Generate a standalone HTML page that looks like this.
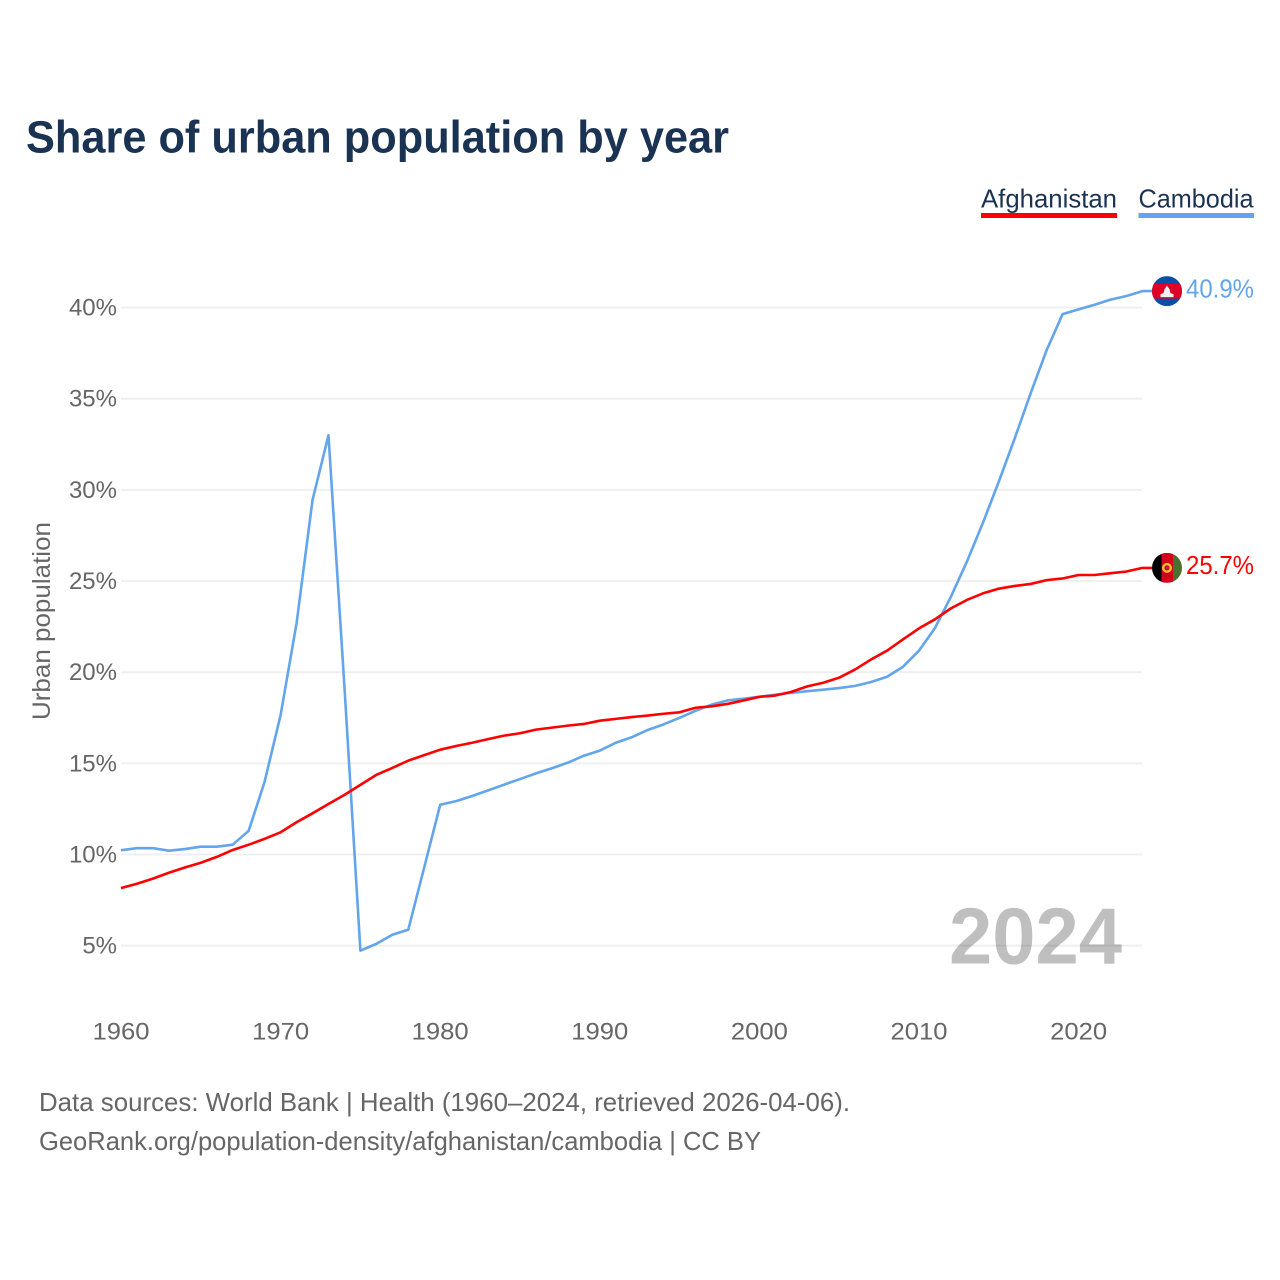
<!DOCTYPE html>
<html lang="en">
<head>
<meta charset="utf-8">
<title>Share of urban population by year</title>
<style>
html,body{margin:0;padding:0;background:#fff;}
svg{display:block;font-family:"Liberation Sans",sans-serif;}
</style>
</head>
<body>
<svg id="chart" xmlns="http://www.w3.org/2000/svg" width="1280" height="1280" viewBox="0 0 1280 1280">
  <defs>
    <clipPath id="flag-clip"><circle cx="0" cy="0" r="15"></circle></clipPath>
  </defs>
  <rect x="0" y="0" width="1280" height="1280" fill="#ffffff"></rect>
  <text x="26" y="152.500" font-size="45" font-weight="700" fill="#1a3353" textLength="703" lengthAdjust="spacingAndGlyphs">Share of urban population by year</text>

  <g>
    <g>
      <text x="981" y="207.500" font-size="26" fill="#1a3353" textLength="136" lengthAdjust="spacingAndGlyphs">Afghanistan</text>
      <rect x="981" y="213" width="136" height="5" fill="#ff0000"></rect>
    </g>
    <g>
      <text x="1138.500" y="207.500" font-size="26" fill="#1a3353" textLength="115" lengthAdjust="spacingAndGlyphs">Cambodia</text>
      <rect x="1138.500" y="213" width="115.500" height="5" fill="#63a5ec"></rect>
    </g>
  </g>

  <g id="grid"></g>
  <g id="y-axis"></g>
  <g id="x-axis"></g>

  <text transform="translate(50,720) rotate(-90)" font-size="25" fill="#666666" textLength="198" lengthAdjust="spacingAndGlyphs">Urban population</text>

  <text x="949" y="963.500" font-size="80" font-weight="700" fill="#000000" fill-opacity="0.25" textLength="173" lengthAdjust="spacingAndGlyphs">2024</text>

  <g id="series"></g>

  <g id="flag-cambodia">
    <g clip-path="url(#flag-clip)">
      <rect x="-15" y="-15" width="30" height="30" fill="#0b4ea2"></rect>
      <rect x="-15" y="-7.500" width="30" height="15" fill="#e00025"></rect>
      <path d="M-6.500 6 L-6.500 3 L-3.500 2 L-2.500 -2 L0 -5.500 L2.500 -2 L3.500 2 L6.500 3 L6.500 6 Z" fill="#f0f0f0"></path>
    </g>
  </g>
  <g id="flag-afghanistan">
    <g clip-path="url(#flag-clip)">
      <rect x="-15" y="-15" width="9.500" height="30" fill="#000000"></rect>
      <rect x="-5.500" y="-15" width="11.500" height="30" fill="#d5001c"></rect>
      <rect x="6" y="-15" width="9" height="30" fill="#4a7030"></rect>
      <circle cx="0" cy="0" r="3.800" fill="none" stroke="#f2c230" stroke-width="2.400"></circle>
      <circle cx="0" cy="0" r="1" fill="#7a5a20"></circle>
    </g>
  </g>
  <text id="value-cambodia" x="1186" font-size="26" fill="#63a5ec" textLength="68" lengthAdjust="spacingAndGlyphs"></text>
  <text id="value-afghanistan" x="1186" font-size="26" fill="#ff0000" textLength="68" lengthAdjust="spacingAndGlyphs"></text>

  <g>
    <text x="39" y="1111" font-size="26" fill="#666666" textLength="811" lengthAdjust="spacingAndGlyphs">Data sources: World Bank | Health (1960–2024, retrieved 2026-04-06).</text>
    <text x="39" y="1150" font-size="26" fill="#666666" textLength="722" lengthAdjust="spacingAndGlyphs">GeoRank.org/population-density/afghanistan/cambodia | CC BY</text>
  </g>
</svg>
<script>
var startYear = 1960;
var yTickValues = [5, 10, 15, 20, 25, 30, 35, 40];
var xTickValues = [1960, 1970, 1980, 1990, 2000, 2010, 2020];
var afghanistanValues = [
  8.16, 8.40, 8.68, 9.00, 9.29, 9.55, 9.87, 10.25, 10.54, 10.86,
  11.22, 11.77, 12.26, 12.77, 13.27, 13.82, 14.37, 14.75, 15.15, 15.45,
  15.75, 15.95, 16.13, 16.33, 16.52, 16.65, 16.85, 16.96, 17.07, 17.16,
  17.34, 17.44, 17.54, 17.62, 17.72, 17.80, 18.05, 18.13, 18.26, 18.45,
  18.65, 18.72, 18.92, 19.22, 19.42, 19.70, 20.15, 20.70, 21.18, 21.80,
  22.40, 22.90, 23.50, 23.96, 24.32, 24.58, 24.73, 24.84, 25.05, 25.14,
  25.33, 25.33, 25.43, 25.52, 25.72
];
var cambodiaValues = [
  10.24, 10.35, 10.35, 10.21, 10.30, 10.43, 10.43, 10.54, 11.30, 14.00,
  17.65, 22.68, 29.44, 33.00, 19.20, 4.73, 5.10, 5.60, 5.88, 9.30,
  12.73, 12.93, 13.21, 13.52, 13.83, 14.14, 14.45, 14.73, 15.04, 15.42,
  15.70, 16.13, 16.43, 16.83, 17.14, 17.50, 17.88, 18.22, 18.45, 18.55,
  18.65, 18.77, 18.87, 18.96, 19.04, 19.13, 19.25, 19.46, 19.75, 20.30,
  21.18, 22.42, 24.14, 26.06, 28.18, 30.45, 32.83, 35.31, 37.67, 39.64,
  39.90, 40.15, 40.43, 40.63, 40.90
];

var NS = 'http://www.w3.org/2000/svg';
function xScale(year) { return 121 + (year - 1960) * 15.96; }
function yScale(v) { return 945.7 - (v - 5) * 18.234; }
function make(tag, parent) {
  var el = document.createElementNS(NS, tag);
  parent.appendChild(el);
  return el;
}

var gridGroup = document.getElementById('grid');
var yAxisGroup = document.getElementById('y-axis');
var xAxisGroup = document.getElementById('x-axis');
var seriesGroup = document.getElementById('series');

yTickValues.forEach(function (v) {
  var line = make('line', gridGroup);
  
  
  line.setAttribute('x1', 121);
  line.setAttribute('x2', 1142);
  line.setAttribute('y1', yScale(v));
  line.setAttribute('y2', yScale(v));
  line.setAttribute('stroke', '#eeeeee');
  line.setAttribute('stroke-width', 1.8);

  var label = make('text', yAxisGroup);
  
  
  label.setAttribute('x', 117);
  label.setAttribute('y', yScale(v) + 8);
  label.setAttribute('text-anchor', 'end');
  label.setAttribute('font-size', 24);
  label.setAttribute('fill', '#666666');
  label.textContent = v + '%';
});

xTickValues.forEach(function (yr) {
  var label = make('text', xAxisGroup);
  
  
  label.setAttribute('x', xScale(yr) - 28.5);
  label.setAttribute('y', 1039.5);
  label.setAttribute('font-size', 24);
  label.setAttribute('fill', '#666666');
  label.setAttribute('textLength', 57);
  label.setAttribute('lengthAdjust', 'spacingAndGlyphs');
  label.textContent = yr;
});

function drawSeries(values, color, seriesKey, flagId, valueId) {
  var pts = values.map(function (v, i) {
    return xScale(startYear + i).toFixed(2) + ',' + yScale(v).toFixed(2);
  });
  var last = values[values.length - 1];
  var lastY = yScale(last);
  pts.push('1152,' + lastY.toFixed(2));
  var line = make('polyline', seriesGroup);
  
  
  line.setAttribute('points', pts.join(' '));
  line.setAttribute('fill', 'none');
  line.setAttribute('stroke', color);
  line.setAttribute('stroke-width', 2.6);
  line.setAttribute('stroke-linejoin', 'round');
  document.getElementById(flagId).setAttribute('transform', 'translate(1167,' + lastY.toFixed(2) + ')');
  var t = document.getElementById(valueId);
  t.setAttribute('y', (lastY + 6.2).toFixed(2));
  t.textContent = last.toFixed(1) + '%';
}

drawSeries(cambodiaValues, '#63a5ec', 'cambodia', 'flag-cambodia', 'value-cambodia');
drawSeries(afghanistanValues, '#ff0000', 'afghanistan', 'flag-afghanistan', 'value-afghanistan');
</script>
</body>
</html>
